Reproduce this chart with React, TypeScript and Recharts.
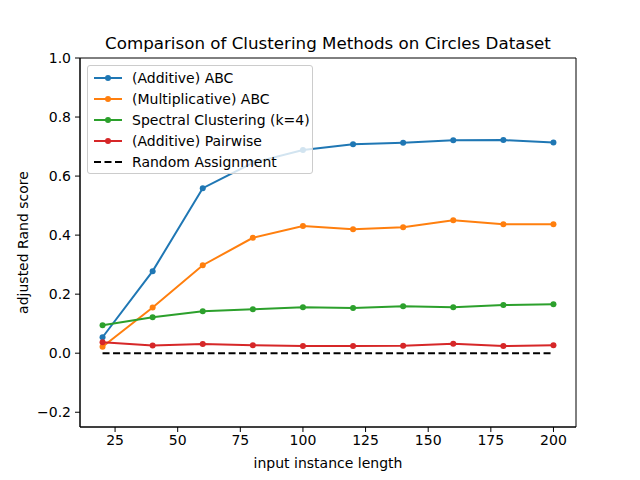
import React from "react";
import {
  LineChart,
  Line,
  XAxis,
  YAxis,
  Legend,
  ReferenceArea,
  Label,
} from "recharts";

const lengths = [20, 40, 60, 80, 100, 120, 140, 160, 180, 200];
const additiveAbc = [0.054, 0.278, 0.559, 0.645, 0.688, 0.708, 0.713, 0.721, 0.722, 0.714];
const multiplicativeAbc = [0.022, 0.155, 0.298, 0.391, 0.431, 0.42, 0.427, 0.45, 0.437, 0.437];
const spectral = [0.095, 0.122, 0.142, 0.149, 0.156, 0.153, 0.159, 0.156, 0.163, 0.166];
const pairwise = [0.037, 0.026, 0.031, 0.027, 0.024, 0.024, 0.025, 0.032, 0.024, 0.027];
const randomAssignment = [0, 0, 0, 0, 0, 0, 0, 0, 0, 0];

const xTicks = [25, 50, 75, 100, 125, 150, 175, 200];
const yTicks = [-0.2, 0, 0.2, 0.4, 0.6, 0.8, 1.0];

const series = [
  { key: "additive", name: "(Additive) ABC", color: "#1f77b4", dashed: false },
  { key: "multiplicative", name: "(Multiplicative) ABC", color: "#ff7f0e", dashed: false },
  { key: "spectral", name: "Spectral Clustering (k=4)", color: "#2ca02c", dashed: false },
  { key: "pairwise", name: "(Additive) Pairwise", color: "#d62728", dashed: false },
  { key: "random", name: "Random Assignment", color: "#000000", dashed: true },
];

const data = lengths.map((len, i) => ({
  len,
  additive: additiveAbc[i],
  multiplicative: multiplicativeAbc[i],
  spectral: spectral[i],
  pairwise: pairwise[i],
  random: randomAssignment[i],
}));

const FONT = "DejaVu Sans, sans-serif";

const LegendBox = () => (
  <div
    style={{
      boxSizing: "border-box",
      border: "1px solid #cccccc",
      borderRadius: 3,
      background: "rgba(255,255,255,0.8)",
      padding: "1px 6px 1px 6px",
      fontFamily: FONT,
      fontSize: 14,
      color: "#000",
      width: 226,
      whiteSpace: "nowrap",
      textAlign: "left",
    }}
  >
    {series.map((s) => (
      <div key={s.key} style={{ display: "flex", alignItems: "center", height: 21 }}>
        <svg width={28} height={10} style={{ marginRight: 10, flex: "none" }}>
          <line
            x1={0}
            y1={5}
            x2={28}
            y2={5}
            stroke={s.color}
            strokeWidth={2}
            strokeDasharray={s.dashed ? "7 3.5" : undefined}
          />
          {!s.dashed && <circle cx={14} cy={5} r={3} fill={s.color} />}
        </svg>
        <span>{s.name}</span>
      </div>
    ))}
  </div>
);

const fmtY = (v: number) => v.toFixed(1).replace("-", "\u2212");

export default function App() {
  return (
    <div style={{ position: "absolute", left: 0, top: 0, width: 640, height: 480, background: "#fff" }}>
      <div
        style={{
          position: "absolute",
          left: 80,
          width: 496,
          top: 33,
          textAlign: "center",
          fontFamily: FONT,
          fontSize: 16.7,
          color: "#000",
        }}
      >
        Comparison of Clustering Methods on Circles Dataset
      </div>
      <LineChart
        width={640}
        height={480}
        data={data}
        margin={{ top: 58, right: 64, bottom: 0, left: 2 }}
      >
        <XAxis
          dataKey="len"
          type="number"
          domain={[11, 209]}
          ticks={xTicks}
          allowDataOverflow
          height={53}
          tickSize={5}
          tickMargin={3}
          axisLine={{ stroke: "#000" }}
          tickLine={{ stroke: "#000" }}
          tick={{ fill: "#000", fontSize: 14, fontFamily: FONT }}
        >
          <Label
            value="input instance length"
            position="insideBottom"
            offset={12}
            style={{ fill: "#000", fontSize: 14, fontFamily: FONT }}
          />
        </XAxis>
        <YAxis
          type="number"
          domain={[-0.25, 1.0]}
          ticks={yTicks}
          allowDataOverflow
          width={78}
          tickSize={5}
          tickMargin={4}
          tickFormatter={fmtY}
          axisLine={{ stroke: "#000" }}
          tickLine={{ stroke: "#000" }}
          tick={{ fill: "#000", fontSize: 14, fontFamily: FONT }}
        >
          <Label
            value="adjusted Rand score"
            angle={-90}
            position="insideLeft"
            offset={21}
            style={{ fill: "#000", fontSize: 14, fontFamily: FONT, textAnchor: "middle" }}
          />
        </YAxis>
        <ReferenceArea
          x1={11}
          x2={209}
          y1={-0.25}
          y2={1.0}
          fill="none"
          stroke="#000"
          strokeWidth={1}
          ifOverflow="visible"
        />
        {series.map((s) => (
          <Line
            key={s.key}
            dataKey={s.key}
            name={s.name}
            type="linear"
            stroke={s.color}
            strokeWidth={2}
            strokeDasharray={s.dashed ? "7 3.5" : undefined}
            dot={s.dashed ? false : { r: 3, fill: s.color, stroke: s.color, strokeWidth: 0 }}
            activeDot={false}
            isAnimationActive={false}
          />
        ))}
        <Legend
          layout="horizontal"
          verticalAlign="middle"
          align="center"
          content={<LegendBox />}
          wrapperStyle={{ left: 87, top: 65, width: 226 }}
        />
      </LineChart>
    </div>
  );
}
